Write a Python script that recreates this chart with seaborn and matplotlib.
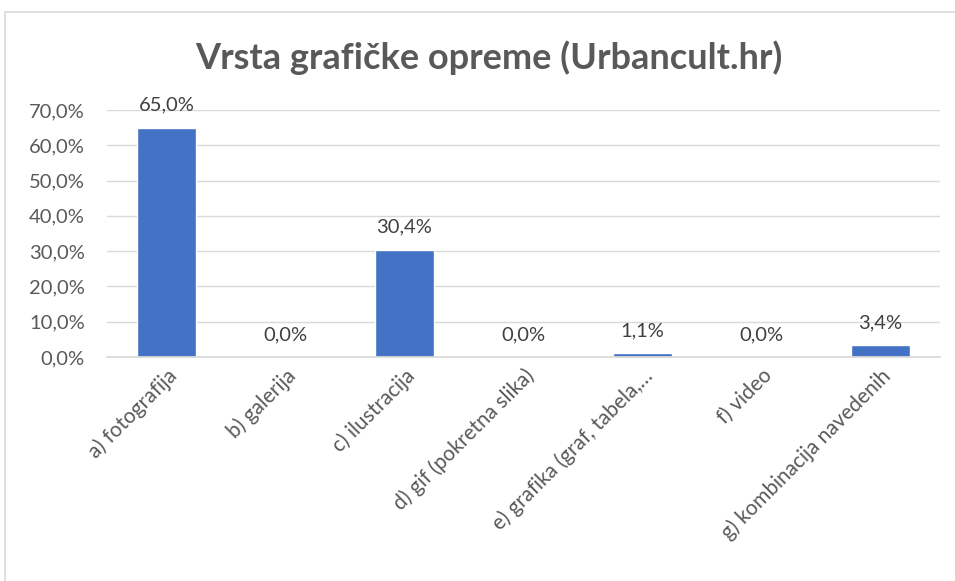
import matplotlib
matplotlib.use("Agg")
import matplotlib.pyplot as plt
import seaborn as sns
import pandas as pd
from matplotlib.lines import Line2D
from matplotlib.ticker import FuncFormatter

categories = ["a) fotografija", "b) galerija", "c) ilustracija", "d) gif (pokretna slika)",
              "e) grafika (graf, tabela,…", "f) video", "g) kombinacija navedenih"]
values = [65.0, 0.0, 30.4, 0.0, 1.1, 0.0, 3.4]
yticks = [0, 10, 20, 30, 40, 50, 60, 70]
title = "Vrsta grafičke opreme (Urbancult.hr)"

sns.set_theme(style="white")
plt.rcParams['font.family'] = ['Lato', 'DejaVu Sans']

df = pd.DataFrame({"cat": categories, "val": values})

fig = plt.figure(figsize=(9.55, 5.81), dpi=100)
ax = fig.add_axes([107/955, 1-357/581, (940-107)/955, (357-110)/581])
sns.barplot(data=df, x="cat", y="val", color="#4472C4", width=0.5, ax=ax, saturation=1)

ax.set_ylim(0, 70)
ax.set_yticks(yticks)
ax.yaxis.set_major_formatter(FuncFormatter(lambda v, p: f"{v:.1f}%".replace(".", ",")))
ax.grid(axis="y", color="#d9d9d9", linewidth=1)
ax.set_axisbelow(True)
for s in ["top", "right", "left"]:
    ax.spines[s].set_visible(False)
ax.spines["bottom"].set_color("#d9d9d9")
ax.set_xlabel("")
ax.set_ylabel("")
fs = 14.5
ax.tick_params(axis="y", labelsize=fs, colors="#595959", length=0, pad=16)
ax.tick_params(axis="x", labelsize=15, colors="#595959", length=0, pad=6)
plt.setp(ax.get_xticklabels(), rotation=45, ha="right", rotation_mode="anchor")

for i, v in enumerate(values):
    ax.annotate(f"{v:.1f}%".replace(".", ","), (i, v), xytext=(0, 10), textcoords="offset points",
                ha="center", va="bottom", fontsize=fs, color="#404040")

fig.text(489/955, 1-58/581, title, ha="center", va="center", fontsize=26, fontweight="bold", color="#595959")

fig.add_artist(Line2D([5/955, 1], [1-12/581, 1-12/581], color="#d9d9d9", linewidth=1.2, transform=fig.transFigure))
fig.add_artist(Line2D([5/955, 5/955], [0, 1-12/581], color="#d9d9d9", linewidth=1.2, transform=fig.transFigure))

fig.savefig("out.png", dpi=100)
